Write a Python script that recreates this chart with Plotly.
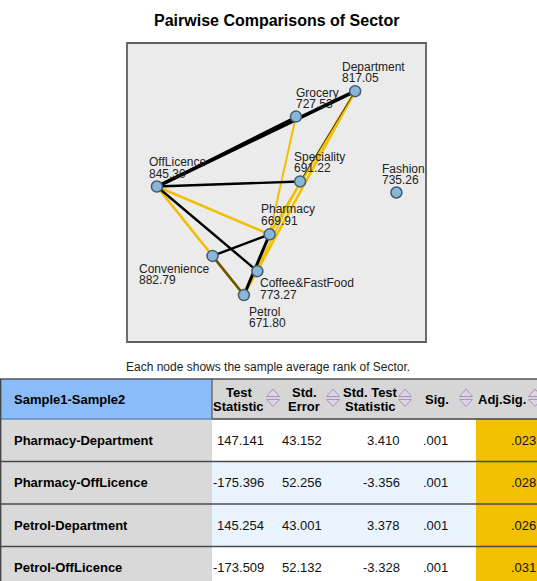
import plotly.graph_objects as go

W, H = 537, 581
FONT = "Liberation Sans, Arial, sans-serif"

# ---- network data: sectors, mean ranks and layout coordinates ----
sectors = ["Department", "Grocery", "OffLicence", "Speciality", "Fashion",
           "Pharmacy", "Convenience", "Coffee&FastFood", "Petrol"]
mean_rank = [817.05, 727.53, 845.30, 691.22, 735.26, 669.91, 882.79, 773.27, 671.80]
node_x = [76.3, 56.5, 10.0, 57.9, 90.1, 47.7, 28.6, 43.6, 39.1]
node_y = [83.9, 75.4, 52.0, 53.7, 50.0, 36.0, 28.8, 23.7, 15.7]

sig_pairs = [("Department", "Pharmacy"), ("Department", "Petrol"),
             ("OffLicence", "Pharmacy"), ("OffLicence", "Petrol"),
             ("Grocery", "Pharmacy"), ("Speciality", "Petrol")]
nonsig_pairs = [("OffLicence", "Department"), ("OffLicence", "Grocery"),
                ("OffLicence", "Speciality"), ("Speciality", "Department"),
                ("OffLicence", "Coffee&FastFood"), ("Convenience", "Pharmacy"),
                ("Pharmacy", "Petrol"), ("Convenience", "Petrol")]

# ---- table data ----
comparisons = ["Pharmacy-Department", "Pharmacy-OffLicence",
               "Petrol-Department", "Petrol-OffLicence"]
test_stat = [147.141, -175.396, 145.254, -173.509]
std_error = [43.152, 52.256, 43.001, 52.132]
std_test_stat = [3.410, -3.356, 3.378, -3.328]
sig = [0.001, 0.001, 0.001, 0.001]
adj_sig = [0.023, 0.028, 0.026, 0.031]
header_labels = [["Test", "Statistic"], ["Std.", "Error"], ["Std. Test", "Statistic"],
                 ["Sig."], ["Adj.Sig."]]

# ---- styles ----
YELLOW = "#f0c000"
sig_width = {("Grocery", "Pharmacy"): 2.0, ("Speciality", "Petrol"): 1.6}
nonsig_style = {
    ("OffLicence", "Department"): (3.6, "#000000", 1.0),
    ("OffLicence", "Grocery"): (2.0, "#000000", 1.0),
    ("OffLicence", "Speciality"): (2.4, "#000000", 1.0),
    ("Speciality", "Department"): (1.0, "#333333", 1.0),
    ("OffLicence", "Coffee&FastFood"): (2.4, "#000000", 1.0),
    ("Convenience", "Pharmacy"): (2.4, "#000000", 1.0),
    ("Pharmacy", "Petrol"): (3.0, "#000000", 1.0),
    ("Convenience", "Petrol"): (2.6, "#000000", 0.55),
}
# label offsets (pixels) relative to each node: dx, name line dy, value line dy
label_offset = {
    "Department": (-15, -24, -13), "Grocery": (-2, -24, -13),
    "OffLicence": (-10, -25, -13), "Speciality": (-8, -24, -13),
    "Fashion": (-16, -24, -13), "Pharmacy": (-10.5, -25, -13),
    "Convenience": (-75.5, 13, 24), "Coffee&FastFood": (0.5, 12, 24),
    "Petrol": (3, 17, 28),
}

idx = {s: i for i, s in enumerate(sectors)}
fig = go.Figure()


def add_edge(a, b, color, width, opacity=1.0):
    i, j = idx[a], idx[b]
    fig.add_trace(go.Scatter(x=[node_x[i], node_x[j]], y=[node_y[i], node_y[j]],
                             mode="lines", line=dict(color=color, width=width),
                             opacity=opacity, hoverinfo="skip", showlegend=False))


for a, b in sig_pairs:
    add_edge(a, b, YELLOW, sig_width.get((a, b), 2.6))
for a, b in nonsig_pairs:
    w, c, op = nonsig_style[(a, b)]
    add_edge(a, b, c, w, op)

fig.add_trace(go.Scatter(
    x=node_x, y=node_y, mode="markers",
    marker=dict(size=11, color="#8cb6d6", line=dict(color="#3f5d74", width=1.5)),
    text=[f"{s}<br>{r:.2f}" for s, r in zip(sectors, mean_rank)],
    hoverinfo="text", showlegend=False))

annotations = []
for s, r, x, y in zip(sectors, mean_rank, node_x, node_y):
    dx, d1, d2 = label_offset[s]
    for txt, dy in ((s, d1), (f"{r:.2f}", d2)):
        annotations.append(dict(x=x, y=y, xref="x", yref="y", text=txt, showarrow=False,
                                xanchor="left", yanchor="middle", xshift=dx, yshift=-dy,
                                font=dict(family=FONT, size=12, color="#222222")))

# title and caption
annotations.append(dict(x=276.5 / W, y=1 - 20 / H, xref="paper", yref="paper",
                        text="<b>Pairwise Comparisons of Sector</b>", showarrow=False,
                        xanchor="center", yanchor="middle",
                        font=dict(family=FONT, size=16, color="#000000")))
annotations.append(dict(x=268 / W, y=1 - 367 / H, xref="paper", yref="paper",
                        text="Each node shows the sample average rank of Sector.",
                        showarrow=False, xanchor="center", yanchor="middle",
                        font=dict(family=FONT, size=12, color="#222222")))

shapes = [dict(type="rect", xref="x domain", yref="y domain", x0=0, x1=1, y0=0, y1=1,
               line=dict(color="#5e5e5e", width=1.8), layer="above")]


def px(x):
    return x / W


def py(y):
    return 1 - y / H


def rect(x0, y0, x1, y1, fill):
    shapes.append(dict(type="rect", xref="paper", yref="paper", x0=px(x0), x1=px(x1),
                       y0=py(y1), y1=py(y0), fillcolor=fill, line=dict(width=0),
                       layer="below"))


def hline(y, x0, x1, color, width):
    shapes.append(dict(type="line", xref="paper", yref="paper", x0=px(x0), x1=px(x1),
                       y0=py(y), y1=py(y), line=dict(color=color, width=width)))


def vline(x, y0, y1, color, width):
    shapes.append(dict(type="line", xref="paper", yref="paper", x0=px(x), x1=px(x),
                       y0=py(y0), y1=py(y1), line=dict(color=color, width=width)))


# ---- table geometry ----
col_edges = [0, 212, 283, 343, 415, 476, 560]
value_right = [266, 324, 402, 450, 538]
t_top, h_bot, row_h = 379, 419, 42.5
row_fills = ["#ffffff", "#eaf4fe", "#eaf4fe", "#ffffff"]

rect(0, t_top, col_edges[1], h_bot, "#8bbcf8")
rect(col_edges[1], t_top, W + 20, h_bot, "#d6d6d6")
for r in range(len(comparisons)):
    y0 = h_bot + r * row_h
    rect(0, y0, col_edges[1], y0 + row_h, "#d9d9d9")
    rect(col_edges[1], y0, col_edges[5], y0 + row_h, row_fills[r])
    rect(col_edges[5], y0, W + 20, y0 + row_h, "#f2c000")

hline(t_top, 0, W + 20, "#555555", 1.5)
hline(h_bot, 0, col_edges[1], "#5a8cc8", 1.5)
hline(h_bot, col_edges[1], W + 20, "#444444", 1.5)
for r in range(1, len(comparisons)):
    hline(h_bot + r * row_h, 0, W + 20, "#4a4a4a", 1.5)
vline(0.6, t_top, H + 10, "#444444", 1.5)
vline(col_edges[1], t_top, h_bot, "#555555", 1.2)

# header labels and sort arrows
annotations.append(dict(x=px(12), y=py(399), xref="paper", yref="paper",
                        text="<b>Sample1-Sample2</b>", showarrow=False,
                        xanchor="left", yanchor="middle",
                        font=dict(family=FONT, size=13, color="#000000")))
for c, lines in enumerate(header_labels):
    left, right = col_edges[c + 1], col_edges[c + 2]
    if c == len(header_labels) - 1:
        right = 545
    ax = right - 10
    tx = (left + ax - 8) / 2
    ys = [392, 406] if len(lines) == 2 else [399]
    for txt, yy in zip(lines, ys):
        annotations.append(dict(x=px(tx), y=py(yy), xref="paper", yref="paper",
                                text=f"<b>{txt}</b>", showarrow=False,
                                xanchor="center", yanchor="middle",
                                font=dict(family=FONT, size=13, color="#000000")))
    up = f"M {px(ax-6.5)},{py(396.5)} L {px(ax+6.5)},{py(396.5)} L {px(ax)},{py(389)} Z"
    dn = f"M {px(ax-6.5)},{py(399.5)} L {px(ax+6.5)},{py(399.5)} L {px(ax)},{py(406.5)} Z"
    for p in (up, dn):
        shapes.append(dict(type="path", xref="paper", yref="paper", path=p,
                           fillcolor="#ddd2e6", line=dict(color="#a996b8", width=1)))


def fmt(v, decimals):
    s = f"{v:.{decimals}f}"
    if s.startswith("0."):
        s = s[1:]
    return s


columns = [[fmt(v, 3) for v in test_stat], [fmt(v, 3) for v in std_error],
           [fmt(v, 3) for v in std_test_stat], [fmt(v, 3) for v in sig],
           [fmt(v, 3) for v in adj_sig]]

for r, name in enumerate(comparisons):
    yc = h_bot + r * row_h + row_h / 2
    annotations.append(dict(x=px(12), y=py(yc), xref="paper", yref="paper",
                            text=f"<b>{name}</b>", showarrow=False,
                            xanchor="left", yanchor="middle",
                            font=dict(family=FONT, size=13, color="#000000")))
    for c, col in enumerate(columns):
        annotations.append(dict(x=px(value_right[c]), y=py(yc), xref="paper", yref="paper",
                                text=col[r], showarrow=False,
                                xanchor="right", yanchor="middle",
                                font=dict(family=FONT, size=13, color="#111111")))

fig.update_layout(
    width=W, height=H, autosize=False,
    margin=dict(l=0, r=0, t=0, b=0),
    paper_bgcolor="#ffffff", plot_bgcolor="#ebebeb",
    showlegend=False,
    xaxis=dict(domain=[127 / W, 426 / W], range=[0, 100], visible=False, fixedrange=True),
    yaxis=dict(domain=[1 - 342 / H, 1 - 43 / H], range=[0, 100], visible=False,
               fixedrange=True),
    annotations=annotations, shapes=shapes,
)

fig.write_html("out.html")
